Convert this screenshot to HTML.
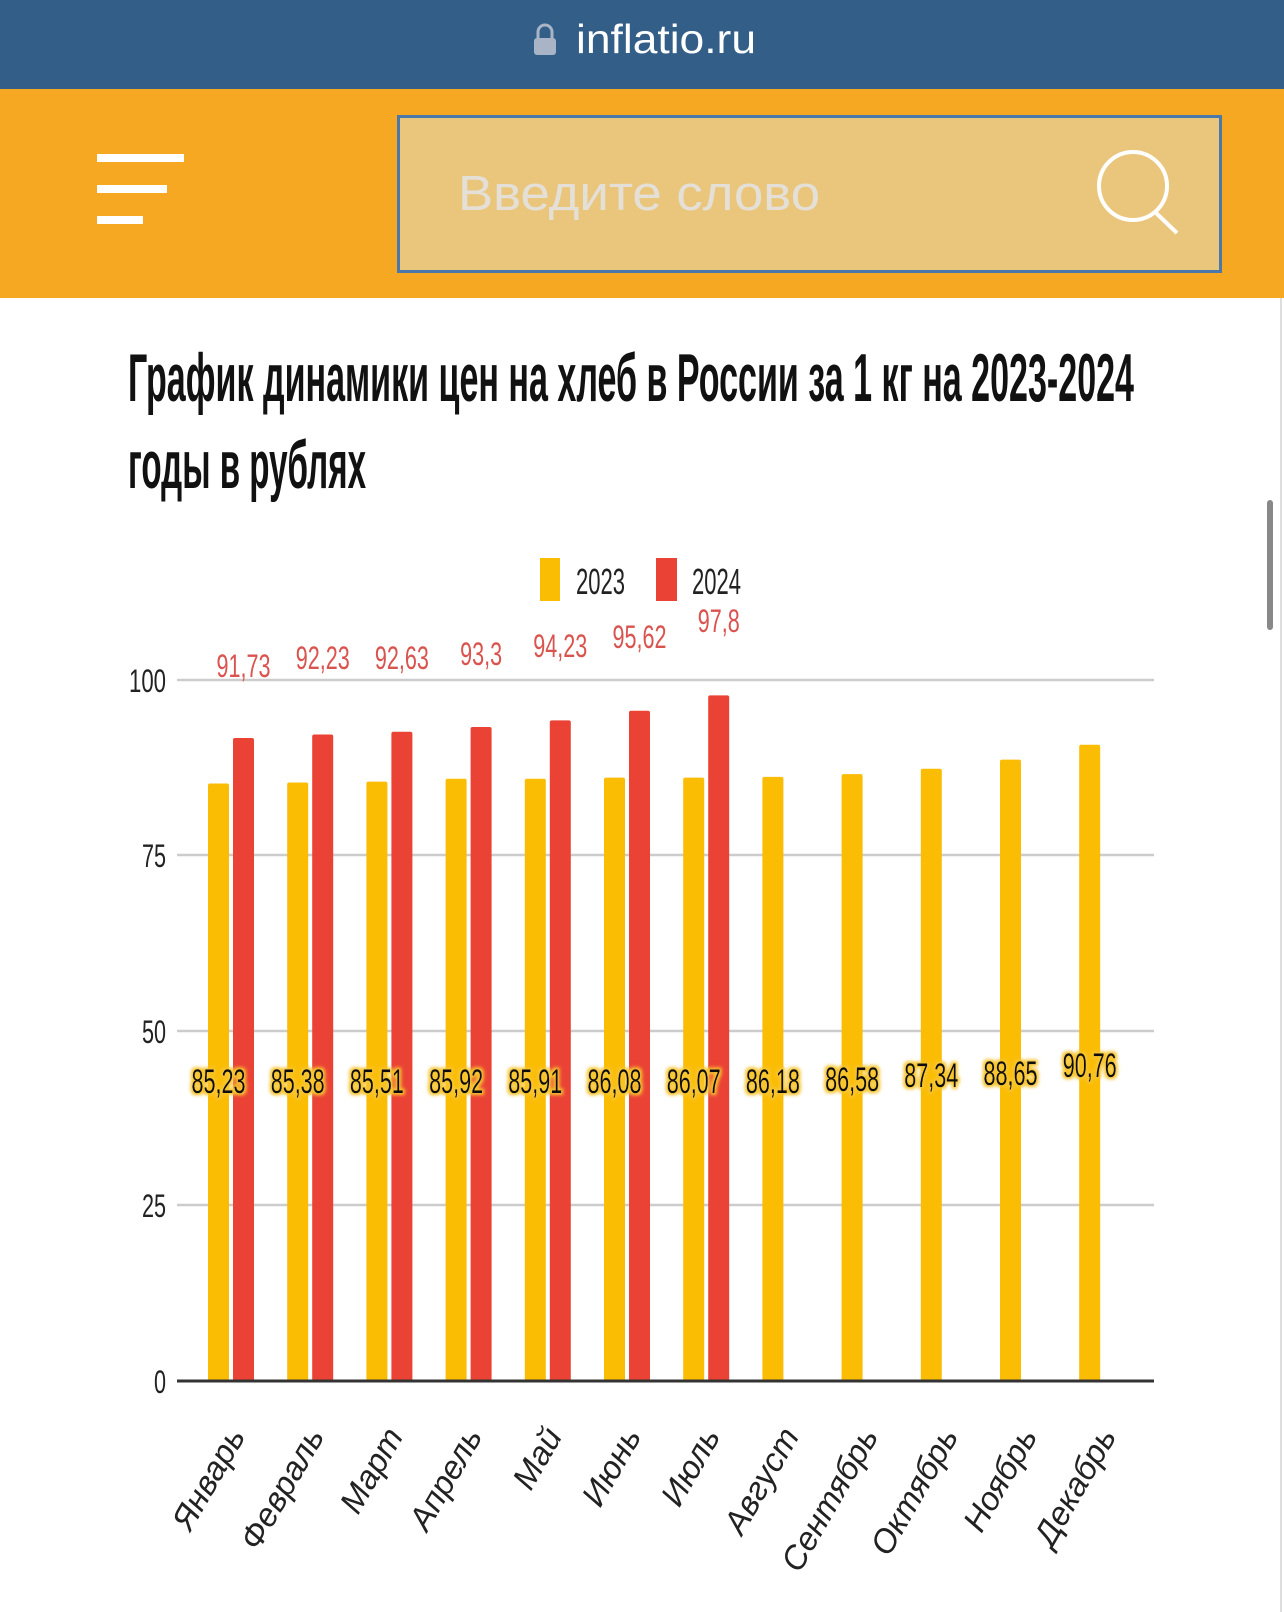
<!DOCTYPE html>
<html><head><meta charset="utf-8"><style>
html,body{margin:0;padding:0;background:#fff;}
svg{display:block;}
</style></head><body>
<svg width="1284" height="1612" viewBox="0 0 1284 1612" xmlns="http://www.w3.org/2000/svg" font-family="Liberation Sans, sans-serif">
<defs>
<filter id="glow" x="-20%" y="-30%" width="140%" height="160%">
<feMorphology in="SourceAlpha" operator="dilate" radius="2" result="d"/>
<feGaussianBlur in="d" stdDeviation="1.5" result="b"/>
<feFlood flood-color="#f7c530"/>
<feComposite in2="b" operator="in" result="g"/>
<feMerge><feMergeNode in="g"/><feMergeNode in="SourceGraphic"/></feMerge>
</filter>
</defs>
<rect x="0" y="0" width="1284" height="89" fill="#325e87"/>
<rect x="534" y="38" width="22" height="17" rx="3" fill="#a9b5c7"/>
<path d="M538 38 v-6 a7 7 0 0 1 14 0 v6" fill="none" stroke="#a9b5c7" stroke-width="3"/>
<text x="576" y="53" font-size="41" fill="#fff" textLength="180" lengthAdjust="spacingAndGlyphs">inflatio.ru</text>
<rect x="0" y="89" width="1284" height="209" fill="#f7a823"/>
<rect x="97" y="154" width="87" height="8" fill="#fff"/>
<rect x="97" y="185" width="70" height="8" fill="#fff"/>
<rect x="97" y="216" width="46" height="8" fill="#fff"/>
<rect x="398.5" y="116.5" width="822" height="155" fill="#eac67c" stroke="#4a78a8" stroke-width="3"/>
<text x="458" y="210" font-size="49" fill="#e4e0d8" textLength="362" lengthAdjust="spacingAndGlyphs">Введите слово</text>
<circle cx="1133" cy="186" r="34" fill="none" stroke="#fff" stroke-width="4"/>
<line x1="1155" y1="212" x2="1177" y2="233" stroke="#fff" stroke-width="4"/>
<line x1="1281" y1="298" x2="1281" y2="1612" stroke="#ddd" stroke-width="2"/>
<rect x="1267" y="500" width="6" height="130" rx="3" fill="#888"/>
<text x="128" y="401" font-size="68" font-weight="bold" fill="#111" textLength="1006" lengthAdjust="spacingAndGlyphs">График динамики цен на хлеб в России за 1 кг на 2023-2024</text>
<text x="128" y="488" font-size="68" font-weight="bold" fill="#111" textLength="238" lengthAdjust="spacingAndGlyphs">годы в рублях</text>
<rect x="540" y="558" width="20" height="43" fill="#fbbc04"/>
<text x="576" y="594" font-size="36" fill="#222" textLength="49" lengthAdjust="spacingAndGlyphs">2023</text>
<rect x="656" y="558" width="21" height="43" fill="#ea4335"/>
<text x="692" y="594" font-size="36" fill="#222" textLength="49" lengthAdjust="spacingAndGlyphs">2024</text>
<g stroke="#ccc" stroke-width="2.5">
<line x1="177" y1="680" x2="1154" y2="680"/><line x1="177" y1="855" x2="1154" y2="855"/>
<line x1="177" y1="1031" x2="1154" y2="1031"/><line x1="177" y1="1205" x2="1154" y2="1205"/>
</g>
<g font-size="32" fill="#222" text-anchor="end">
<text x="166" y="692" textLength="37" lengthAdjust="spacingAndGlyphs">100</text>
<text x="166" y="867" textLength="24" lengthAdjust="spacingAndGlyphs">75</text>
<text x="166" y="1043" textLength="24" lengthAdjust="spacingAndGlyphs">50</text>
<text x="166" y="1217" textLength="24" lengthAdjust="spacingAndGlyphs">25</text>
<text x="166" y="1393" textLength="12" lengthAdjust="spacingAndGlyphs">0</text>
</g>
<g fill="#fbbc04">
<rect x="208" y="783.5" width="21" height="597.5" rx="2"/>
<rect x="287.2" y="782.5" width="21" height="598.5" rx="2"/>
<rect x="366.4" y="781.6" width="21" height="599.4" rx="2"/>
<rect x="445.6" y="778.7" width="21" height="602.3" rx="2"/>
<rect x="524.8" y="778.8" width="21" height="602.2" rx="2"/>
<rect x="604" y="777.6" width="21" height="603.4" rx="2"/>
<rect x="683.2" y="777.6" width="21" height="603.4" rx="2"/>
<rect x="762.4" y="776.9" width="21" height="604.1" rx="2"/>
<rect x="841.6" y="774.1" width="21" height="606.9" rx="2"/>
<rect x="920.8" y="768.7" width="21" height="612.3" rx="2"/>
<rect x="1000" y="759.6" width="21" height="621.4" rx="2"/>
<rect x="1079.2" y="744.8" width="21" height="636.2" rx="2"/>
</g>
<g fill="#ea4335">
<rect x="233" y="738" width="21" height="643" rx="2"/>
<rect x="312.2" y="734.5" width="21" height="646.5" rx="2"/>
<rect x="391.4" y="731.7" width="21" height="649.3" rx="2"/>
<rect x="470.6" y="727" width="21" height="654" rx="2"/>
<rect x="549.8" y="720.4" width="21" height="660.6" rx="2"/>
<rect x="629" y="710.7" width="21" height="670.3" rx="2"/>
<rect x="708.2" y="695.4" width="21" height="685.6" rx="2"/>
</g>
<line x1="177" y1="1381" x2="1154" y2="1381" stroke="#333" stroke-width="3"/>
<g font-size="34" fill="#111" text-anchor="middle" filter="url(#glow)">
<text x="218.5" y="1093" textLength="54" lengthAdjust="spacingAndGlyphs">85,23</text>
<text x="297.7" y="1093" textLength="54" lengthAdjust="spacingAndGlyphs">85,38</text>
<text x="376.9" y="1093" textLength="54" lengthAdjust="spacingAndGlyphs">85,51</text>
<text x="456.1" y="1093" textLength="54" lengthAdjust="spacingAndGlyphs">85,92</text>
<text x="535.3" y="1093" textLength="54" lengthAdjust="spacingAndGlyphs">85,91</text>
<text x="614.5" y="1093" textLength="54" lengthAdjust="spacingAndGlyphs">86,08</text>
<text x="693.7" y="1093" textLength="54" lengthAdjust="spacingAndGlyphs">86,07</text>
<text x="772.9" y="1093" textLength="54" lengthAdjust="spacingAndGlyphs">86,18</text>
<text x="852.1" y="1091" textLength="54" lengthAdjust="spacingAndGlyphs">86,58</text>
<text x="931.3" y="1087" textLength="54" lengthAdjust="spacingAndGlyphs">87,34</text>
<text x="1010.5" y="1085" textLength="54" lengthAdjust="spacingAndGlyphs">88,65</text>
<text x="1089.7" y="1077" textLength="54" lengthAdjust="spacingAndGlyphs">90,76</text>
</g>
<g font-size="32" fill="#d9534f" text-anchor="middle">
<text x="243.5" y="677" textLength="54" lengthAdjust="spacingAndGlyphs">91,73</text>
<text x="322.7" y="669" textLength="54" lengthAdjust="spacingAndGlyphs">92,23</text>
<text x="401.9" y="669" textLength="54" lengthAdjust="spacingAndGlyphs">92,63</text>
<text x="481.1" y="665" textLength="42" lengthAdjust="spacingAndGlyphs">93,3</text>
<text x="560.3" y="657" textLength="54" lengthAdjust="spacingAndGlyphs">94,23</text>
<text x="639.5" y="648" textLength="54" lengthAdjust="spacingAndGlyphs">95,62</text>
<text x="718.7" y="632" textLength="42" lengthAdjust="spacingAndGlyphs">97,8</text>
</g>
<g font-size="33" font-style="italic" fill="#222" text-anchor="end">
<text transform="translate(246,1436) rotate(-60)">Январь</text>
<text transform="translate(325,1436) rotate(-60)">Февраль</text>
<text transform="translate(404,1436) rotate(-60)">Март</text>
<text transform="translate(483,1436) rotate(-60)">Апрель</text>
<text transform="translate(563,1436) rotate(-60)">Май</text>
<text transform="translate(642,1436) rotate(-60)">Июнь</text>
<text transform="translate(721,1436) rotate(-60)">Июль</text>
<text transform="translate(800,1436) rotate(-60)">Август</text>
<text transform="translate(879,1436) rotate(-60)">Сентябрь</text>
<text transform="translate(959,1436) rotate(-60)">Октябрь</text>
<text transform="translate(1038,1436) rotate(-60)">Ноябрь</text>
<text transform="translate(1117,1436) rotate(-60)">Декабрь</text>
</g>
</svg>
</body></html>
